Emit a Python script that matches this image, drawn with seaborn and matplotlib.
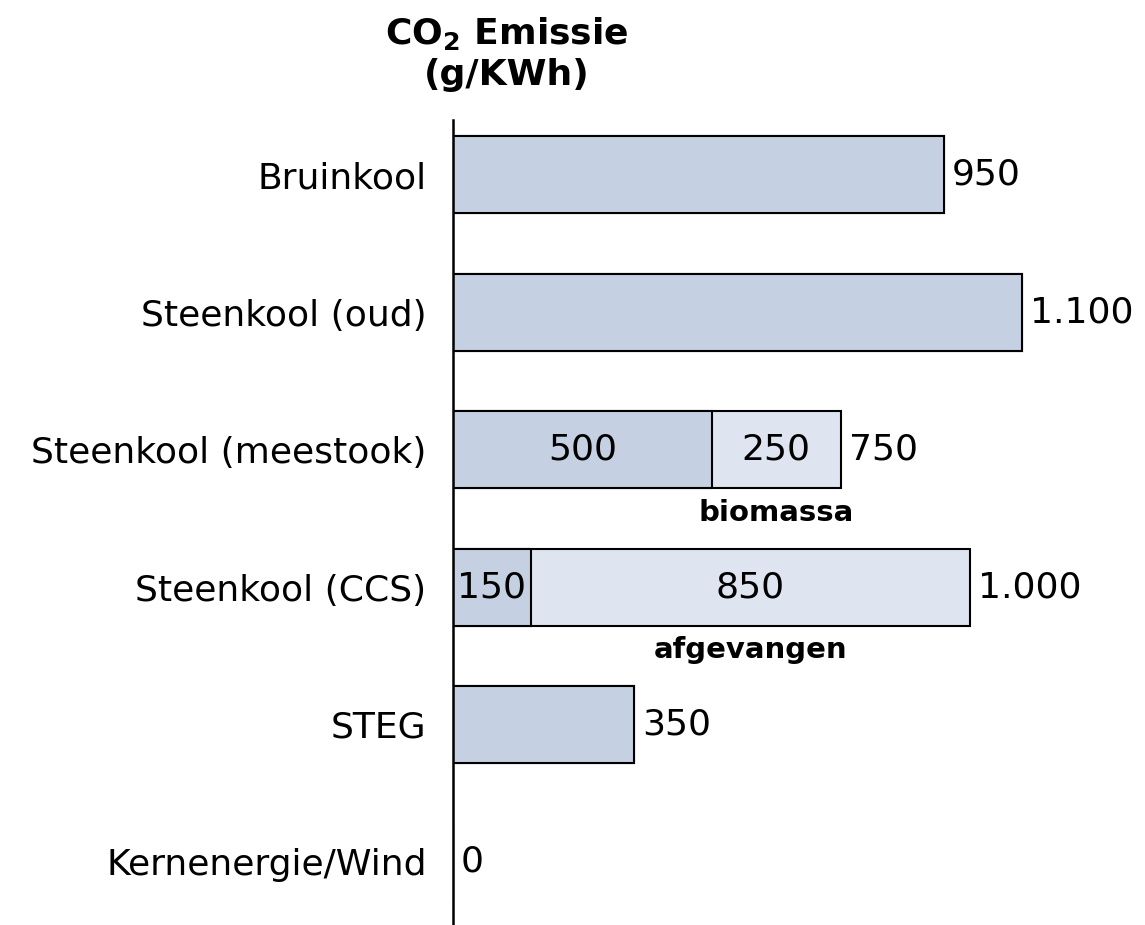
import matplotlib
matplotlib.use("Agg")
import matplotlib.pyplot as plt
import seaborn as sns
import pandas as pd

categories = ["Bruinkool", "Steenkool (oud)", "Steenkool (meestook)",
              "Steenkool (CCS)", "STEG", "Kernenergie/Wind"]
emitted = [950, 1100, 500, 150, 350, 0]
extra = [0, 0, 250, 850, 0, 0]
extra_names = ["", "", "biomassa", "afgevangen", "", ""]

def nl(v):  # dutch thousands separator
    return f"{v:,}".replace(",", ".")

sns.set_style("white")
plt.rcParams['font.family'] = ['DejaVu Sans']
plt.rcParams['text.color'] = 'black'
plt.rcParams['ytick.color'] = 'black'

df = pd.DataFrame({"cat": categories, "emitted": emitted, "extra": extra})
df["total"] = df["emitted"] + df["extra"]

fig = plt.figure(figsize=(11.45, 9.25), dpi=100)
ax = fig.add_axes([453 / 1145, 0, 1 - 453 / 1145, 1 - 120 / 925])

# light (total) bars first, dark (emitted) on top
sns.barplot(data=df, y="cat", x="total", orient="h", color="#DFE5F0",
            saturation=1, width=0.56, edgecolor="black", linewidth=1.5, ax=ax)
sns.barplot(data=df, y="cat", x="emitted", orient="h", color="#C5D0E2",
            saturation=1, width=0.56, edgecolor="black", linewidth=1.5, ax=ax)

ax.set_xlim(0, 1338)
ax.set_ylim(5.46, -0.40)
ax.set_xlabel("")
ax.set_ylabel("")
ax.set_xticks([])
ax.tick_params(axis="y", length=0, pad=19, labelsize=26, labelcolor="black")
for s in ["top", "right", "bottom"]:
    ax.spines[s].set_visible(False)
ax.spines["left"].set_linewidth(1.8)
ax.spines["left"].set_color("black")

for i, row in df.iterrows():
    ax.text(row["total"] + 15, i, nl(row["total"]), va="center", ha="left",
            fontsize=26)
    if row["extra"] > 0:
        ax.text(row["emitted"] / 2, i, nl(row["emitted"]), va="center",
                ha="center", fontsize=26)
        mid = row["emitted"] + row["extra"] / 2
        ax.text(mid, i, nl(row["extra"]), va="center", ha="center", fontsize=26)
        ax.text(mid, i + 0.46, extra_names[i], va="center", ha="center",
                fontsize=21, fontweight="bold")

fig.text(507 / 1145, 1 - 33 / 925, "CO$_\\mathbf{2}$ Emissie",
         ha="center", va="center", fontsize=26, fontweight="bold")
fig.text(507 / 1145, 1 - 75 / 925, "(g/KWh)",
         ha="center", va="center", fontsize=26, fontweight="bold")

fig.savefig("out.png", dpi=100)
